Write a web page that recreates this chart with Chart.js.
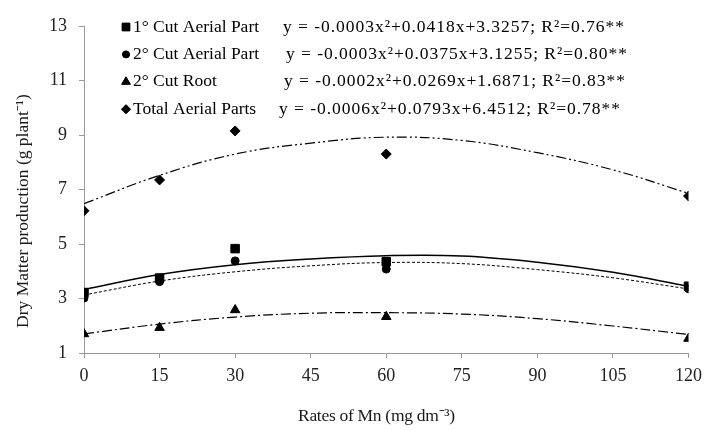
<!DOCTYPE html>
<html>
<head>
<meta charset="utf-8">
<script src="https://cdn.jsdelivr.net/npm/chart.js@4"></script>
<style>
  html, body { margin: 0; padding: 0; background: #fff; }
  #wrap { width: 709px; height: 430px; position: relative; }
</style>
</head>
<body>
<div id="wrap"><canvas id="chart"></canvas></div>
<script>
// rates of Mn applied (mg dm-3)
const rates = [0, 15, 30, 60, 120];
// observed dry matter (g plant-1)
const cut1Aerial = [3.22, 3.75, 4.83, 4.35, 3.45];
const cut2Aerial = [3.02, 3.62, 4.38, 4.08, 3.36];
const cut2Root = [1.70, 1.93, 2.58, 2.33, 1.53];
const totalAerial = [6.22, 7.35, 9.15, 8.30, 6.76];

// fitted curves
const fitX = [0, 15, 30, 45, 60, 75, 90, 105, 120];
const fitCut1 = [3.33, 3.88, 4.24, 4.45, 4.57, 4.56, 4.33, 3.96, 3.45];
const fitCut2 = [3.13, 3.64, 3.98, 4.2, 4.32, 4.28, 4.06, 3.76, 3.35];
const fitRoot = [1.70, 2.06, 2.32, 2.46, 2.48, 2.43, 2.26, 1.99, 1.68];
const fitTotal = [6.48, 7.52, 8.3, 8.7, 8.92, 8.8, 8.35, 7.72, 6.86];

const xTicks = [0, 15, 30, 45, 60, 75, 90, 105, 120];
const yTicks = [1, 3, 5, 7, 9, 11, 13];

const legendRows = [
    { label: '1° Cut Aerial Part', style: 'rect', r: 5.5, eq: 'y = -0.0003x²+0.0418x+3.3257; R²=0.76**', eqX: 283 },
    { label: '2° Cut Aerial Part', style: 'circle', r: 3.5, eq: 'y = -0.0003x²+0.0375x+3.1255; R²=0.80**', eqX: 286 },
    { label: '2° Cut Root', style: 'triangle', r: 5, eq: 'y = -0.0002x²+0.0269x+1.6871; R²=0.83**', eqX: 284 },
    { label: 'Total Aerial Parts', style: 'rectRot', r: 4.5, eq: 'y = -0.0006x²+0.0793x+6.4512; R²=0.78**', eqX: 279 }
];

const serif = '"Liberation Serif", "Times New Roman", serif';

function pts(xs, ys) {
    return xs.map((x, i) => ({ x: x, y: ys[i] }));
}

function markerSet(data, style, r) {
    return {
        data: pts(rates, data), showLine: false, pointStyle: style,
        pointRadius: r, pointBackgroundColor: '#000', pointBorderColor: '#000', borderColor: '#000'
    };
}

function curveSet(data, dash, width) {
    return {
        data: pts(fitX, data), showLine: true, pointRadius: 0, borderColor: '#000',
        borderWidth: width, borderDash: dash, tension: 0.4, fill: false
    };
}

// spread the characters of a string so it takes a given width
function fitText(ctx, text, x, y, width) {
    const chars = [...text];
    const natural = ctx.measureText(text).width;
    const extra = (width - natural) / (chars.length - 1);
    let cx = x;
    chars.forEach(ch => {
        ctx.fillText(ch, cx, y);
        cx += ctx.measureText(ch).width + extra;
    });
}

const legendPlugin = {
    id: 'eqLegend',
    afterDraw(chart) {
        const ctx = chart.ctx;
        ctx.save();
        ctx.fillStyle = '#000';
        ctx.textBaseline = 'middle';
        ctx.font = '17.5px ' + serif;
        legendRows.forEach((row, i) => {
            const y = 27 + i * 27.4;
            Chart.helpers.drawPoint(ctx, { pointStyle: row.style, radius: row.r, borderWidth: 1 }, 126, y);
            ctx.fill();
            ctx.fillText(row.label, 133, y);
            fitText(ctx, row.eq, row.eqX, y, 341);
        });

        // axis titles
        ctx.fillStyle = '#1a1a1a';
        ctx.textAlign = 'left';
        fitText(ctx, 'Rates of Mn (mg dm⁻³)', 298, 416, 157);
        ctx.translate(23, 211);
        ctx.rotate(-Math.PI / 2);
        ctx.textAlign = 'center';
        ctx.fillText('Dry Matter production (g plant⁻¹)', 0, 0);
        ctx.restore();
    }
};

new Chart(document.getElementById('chart'), {
    type: 'scatter',
    data: {
        datasets: [
            curveSet(fitCut1, [], 1.5),
            curveSet(fitCut2, [3, 2], 1),
            curveSet(fitRoot, [10, 3, 2, 3], 1.2),
            curveSet(fitTotal, [10, 3, 2, 3, 2, 3], 1.2),
            markerSet(cut1Aerial, 'rect', 6),
            markerSet(cut2Aerial, 'circle', 4),
            markerSet(cut2Root, 'triangle', 5.5),
            markerSet(totalAerial, 'rectRot', 5)
        ]
    },
    options: {
        responsive: true,
        maintainAspectRatio: false,
        animation: false,
        layout: { padding: { top: 26, right: 18, left: 0, bottom: 0 } },
        plugins: { legend: { display: false }, tooltip: { enabled: false } },
        scales: {
            x: {
                type: 'linear', min: 0, max: 120,
                afterBuildTicks: s => { s.ticks = xTicks.map(v => ({ value: v })); },
                afterFit: s => { s.height = 77; },
                grid: { drawOnChartArea: false, drawTicks: true, tickLength: 5, color: '#999' },
                border: { color: '#999' },
                ticks: { color: '#222', font: { family: serif, size: 18 }, padding: 7 }
            },
            y: {
                type: 'linear', min: 1, max: 13,
                afterBuildTicks: s => { s.ticks = yTicks.map(v => ({ value: v })); },
                afterFit: s => { s.width = 84; },
                grid: { drawOnChartArea: false, drawTicks: true, tickLength: 5, color: '#999' },
                border: { color: '#999' },
                ticks: { color: '#222', font: { family: serif, size: 18 }, padding: 12 }
            }
        }
    },
    plugins: [legendPlugin]
});
</script>
</body>
</html>
